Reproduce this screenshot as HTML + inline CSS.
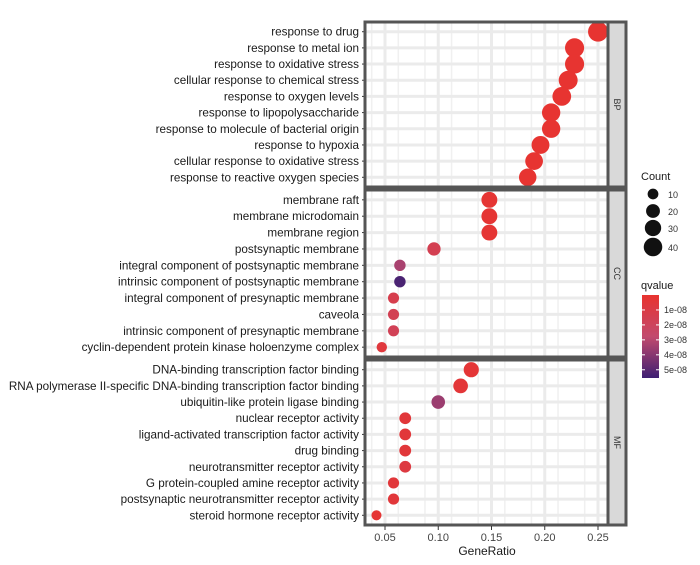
<!DOCTYPE html>
<html><head><meta charset="utf-8"><style>
body{margin:0;background:#fff;font-family:"Liberation Sans",Arial,sans-serif}
svg text{font-family:"Liberation Sans",Arial,sans-serif}
</style></head><body>
<svg id="c" width="700" height="560" xmlns="http://www.w3.org/2000/svg">
<defs><linearGradient id="qg" x1="0" y1="0" x2="0" y2="1">
<stop offset="0" stop-color="#e8332f"/><stop offset="0.5" stop-color="#c24a6e"/><stop offset="1" stop-color="#3e1f72"/></linearGradient></defs>
</svg>
<script>
const bpTerms=["response to drug","response to metal ion","response to oxidative stress","cellular response to chemical stress","response to oxygen levels","response to lipopolysaccharide","response to molecule of bacterial origin","response to hypoxia","cellular response to oxidative stress","response to reactive oxygen species"];
const bpRatio=[0.250,0.228,0.228,0.222,0.216,0.206,0.206,0.196,0.190,0.184];
const bpCount=[47,43,43,42,41,39,39,37,36,35];
const bpQ=[1e-9,1e-9,1e-9,1e-9,1e-9,1e-9,1e-9,1e-9,1e-9,1e-9];
const ccTerms=["membrane raft","membrane microdomain","membrane region","postsynaptic membrane","integral component of postsynaptic membrane","intrinsic component of postsynaptic membrane","integral component of presynaptic membrane","caveola","intrinsic component of presynaptic membrane","cyclin-dependent protein kinase holoenzyme complex"];
const ccRatio=[0.148,0.148,0.148,0.096,0.064,0.064,0.058,0.058,0.058,0.047];
const ccCount=[28,28,28,18,12,12,11,11,11,9];
const ccQ=[2e-9,2e-9,2e-9,1.5e-8,3.3e-8,5.3e-8,1.3e-8,1.6e-8,1.7e-8,6e-9];
const mfTerms=["DNA-binding transcription factor binding","RNA polymerase II-specific DNA-binding transcription factor binding","ubiquitin-like protein ligase binding","nuclear receptor activity","ligand-activated transcription factor activity","drug binding","neurotransmitter receptor activity","G protein-coupled amine receptor activity","postsynaptic neurotransmitter receptor activity","steroid hormone receptor activity"];
const mfRatio=[0.131,0.121,0.100,0.069,0.069,0.069,0.069,0.058,0.058,0.042];
const mfCount=[25,23,19,13,13,13,13,11,11,8];
const mfQ=[3e-9,4e-9,3.6e-8,5e-9,5e-9,5e-9,8e-9,5e-9,5e-9,2e-9];
const xTicks=[0.05,0.10,0.15,0.20,0.25];
const xTickLabels=["0.05","0.10","0.15","0.20","0.25"];
const sizeLegend=[10,20,30,40];
const qTicks=[1e-8,2e-8,3e-8,4e-8,5e-8];
const qTickLabels=["1e-08","2e-08","3e-08","4e-08","5e-08"];

const svg=document.getElementById('c');
const NS="http://www.w3.org/2000/svg";
function mk(t,a,p){const e=document.createElementNS(NS,t);for(const k in a)e.setAttribute(k,a[k]);(p||svg).appendChild(e);return e;}
const X0=365,X1=608;
const xs=v=>385+(v-0.05)*1065;
const rs=c=>Math.sqrt(10+1.9*c);
const QMAX=5.55e-8;
function qcol(q){const t=Math.min(1,q/QMAX);
 const a=[[0,[232,51,47]],[0.5,[194,74,110]],[1,[62,31,114]]];
 let i=t<=0.5?0:1;const f=(t-a[i][0])/0.5;
 const c=a[i][1].map((v,k)=>Math.round(v+(a[i+1][1][k]-v)*f));return `rgb(${c})`;}
const panels=[{n:"BP",t:bpTerms,r:bpRatio,c:bpCount,q:bpQ,y0:22,y1:187},
{n:"CC",t:ccTerms,r:ccRatio,c:ccCount,q:ccQ,y0:190,y1:357},
{n:"MF",t:mfTerms,r:mfRatio,c:mfCount,q:mfQ,y0:360,y1:525}];
panels.forEach(p=>{
 const g=mk('g',{});
 
 
 mk('rect',{x:X0,y:p.y0,width:X1-X0,height:p.y1-p.y0,fill:'#fff'},g);
 const n=p.t.length,step=(p.y1-p.y0)/(n-1+1.2),ys=i=>p.y0+step*(i+0.6);
 for(let k=0;k<10;k++){const v=0.0375+k*0.025;const x=xs(v);if(x>X0&&x<X1)mk('line',{x1:x,x2:x,y1:p.y0,y2:p.y1,stroke:'#f0f0f0','stroke-width':1.5},g);}
 xTicks.forEach(v=>mk('line',{x1:xs(v),x2:xs(v),y1:p.y0,y2:p.y1,stroke:'#ebebeb','stroke-width':3},g));
 for(let i=0;i<n;i++){
  const y=ys(i);
  mk('line',{x1:X0,x2:X1,y1:y,y2:y,stroke:'#ebebeb','stroke-width':3},g);
  const lb=mk('text',{x:X0-6,y:y+4,'text-anchor':'end','font-size':11.7,fill:'#1a1a1a'},g);lb.textContent=p.t[i];
  
  
  mk('line',{x1:X0-3,x2:X0,y1:y,y2:y,stroke:'#333','stroke-width':1},g);
 }
 for(let i=0;i<n;i++){
  const d=mk('circle',{cx:xs(p.r[i]),cy:ys(i),r:rs(p.c[i]),fill:qcol(p.q[i])},g);
  
  
 }
 mk('rect',{x:X0,y:p.y0,width:X1-X0,height:p.y1-p.y0,fill:'none',stroke:'#555','stroke-width':3},g);
 const s=mk('rect',{x:X1,y:p.y0,width:18,height:p.y1-p.y0,fill:'#d9d9d9',stroke:'#555','stroke-width':3},g);
 
 
 const cy=(p.y0+p.y1)/2;
 const st=mk('text',{x:X1+9,y:cy,'font-size':9,fill:'#333','text-anchor':'middle',transform:`rotate(90 ${X1+9} ${cy})`,dy:3},g);st.textContent=p.n;
});
xTicks.forEach((v,i)=>{mk('line',{x1:xs(v),x2:xs(v),y1:526,y2:530,stroke:'#333'});
 const t=mk('text',{x:xs(v),y:541,'text-anchor':'middle','font-size':11,fill:'#444'});t.textContent=xTickLabels[i];
 
 });
const xt=mk('text',{x:487,y:555,'text-anchor':'middle','font-size':12,fill:'#1a1a1a'});xt.textContent="GeneRatio";


const ct=mk('text',{x:641,y:180,'font-size':11,fill:'#1a1a1a'});ct.textContent="Count";


const ly=[194,211,228,247];
sizeLegend.forEach((c,i)=>{const e=mk('circle',{cx:653,cy:ly[i],r:rs(c),fill:'#111'});
 
 
 const t=mk('text',{x:668,y:ly[i]+4,'font-size':9,fill:'#333'});t.textContent=String(c);});
const qt=mk('text',{x:641,y:289,'font-size':11,fill:'#1a1a1a'});qt.textContent="qvalue";


const cb=mk('rect',{x:642,y:295,width:17,height:83,fill:'url(#qg)'});


qTicks.forEach((q,i)=>{const y=295+q/QMAX*83;
 mk('line',{x1:642,x2:645,y1:y,y2:y,stroke:'#fff'});mk('line',{x1:656,x2:659,y1:y,y2:y,stroke:'#fff'});
 const t=mk('text',{x:664,y:y+3,'font-size':9,fill:'#333'});t.textContent=qTickLabels[i];});
</script>
</body></html>
